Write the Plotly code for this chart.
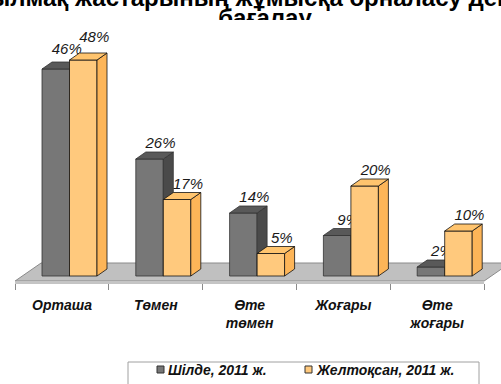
import plotly.graph_objects as go

# ---- data -------------------------------------------------------------
categories = ["Орташа", "Төмен", "Өте<br>төмен", "Жоғары", "Өте<br>жоғары"]
shilde_2011 = [46, 26, 14, 9, 2]
zheltoksan_2011 = [48, 17, 5, 20, 10]
series_names = ["Шілде, 2011 ж.", "Желтоқсан, 2011 ж."]
title_lines = ["Ауылмақ жастарының жұмысқа орналасу деңгейін", "бағалау"]

# ---- canvas / projection constants (pixels) --------------------------
W, H = 501, 384
FONT = "Liberation Sans"
CAT_PX = 93.8          # width of one category slot
FIRST_CENTER_PX = 62   # centre of the first slot
PX_PER_PCT = 4.5       # vertical scale
ZERO_PX = 276          # screen row of the 0 % level
PLOT_BOTTOM_PX = 283   # axis line row
PLOT_TOP_PX = 22
TITLE_BOTTOM_PX = 20

def ux(px):   # pixel width -> category units
    return px / CAT_PX

def uy(px):   # pixel height -> percent units
    return px / PX_PER_PCT

x_range = [ux(-FIRST_CENTER_PX), ux(W - FIRST_CENTER_PX)]
y_range = [-uy(PLOT_BOTTOM_PX - ZERO_PX), uy(ZERO_PX - PLOT_TOP_PX)]

BAR_W = ux(27.5)
DEPTH_X, DEPTH_Y = ux(10), uy(7)        # bar depth projection
FLOOR_DX, FLOOR_DY = ux(26), uy(18)     # floor depth projection
FLOOR_FRONT = -uy(5)

styles = [
    dict(offset=ux(-20), front="#777777", top="#595959", side="#4a4a4a",
         edge="#333333", lift=[4, 0, 0, 0, 0]),
    dict(offset=ux(7.5), front="#FFC97D", top="#FFC46E", side="#FDB558",
         edge="#111111", lift=[7, 0, 0, 0, 0]),
]

fig = go.Figure()


def add_series(values, st, xa, ya, name):
    xs = list(range(len(values)))
    fig.add_trace(go.Bar(
        x=xs, y=values, offset=st["offset"], width=BAR_W, name=name,
        marker=dict(color=st["front"], line=dict(color=st["edge"], width=0.8)),
        xaxis=xa, yaxis=ya, showlegend=False, hoverinfo="skip"))
    top_x, top_y, side_x, side_y = [], [], [], []
    for i, v in enumerate(values):
        xl = i + st["offset"]
        xr = xl + BAR_W
        top_x += [xl, xr, xr + DEPTH_X, xl + DEPTH_X, xl, None]
        top_y += [v, v, v + DEPTH_Y, v + DEPTH_Y, v, None]
        side_x += [xr, xr, xr + DEPTH_X, xr + DEPTH_X, xr, None]
        side_y += [0, v, v + DEPTH_Y, DEPTH_Y, 0, None]
    for fx, fy, col in ((side_x, side_y, st["side"]), (top_x, top_y, st["top"])):
        fig.add_trace(go.Scatter(
            x=fx, y=fy, mode="lines", fill="toself", fillcolor=col,
            line=dict(color=st["edge"], width=0.8), xaxis=xa, yaxis=ya,
            showlegend=False, hoverinfo="skip"))
    lx = [i + st["offset"] + BAR_W / 2 + ux(11) for i in xs]
    ly = [v + DEPTH_Y + uy(7.5 + st["lift"][i]) for i, v in enumerate(values)]
    fig.add_trace(go.Scatter(
        x=lx, y=ly, mode="text", text=[f"{v}%" for v in values],
        textposition="middle center", cliponaxis=False,
        textfont=dict(family=FONT, size=15, style="italic", color="#1a1a1a"),
        xaxis=xa, yaxis=ya, showlegend=False, hoverinfo="skip"))


add_series(shilde_2011, styles[0], "x", "y", series_names[0])
add_series(zheltoksan_2011, styles[1], "x2", "y2", series_names[1])

# title, clipped to a thin strip at the top
fig.add_trace(go.Scatter(
    x=[265, 265], y=[0, 19.5], mode="text", text=title_lines,
    textposition="middle center", cliponaxis=True,
    textfont=dict(family=FONT, size=24, weight="bold", color="#000000"),
    xaxis="x3", yaxis="y3", showlegend=False, hoverinfo="skip"))

n = len(categories)
shapes = [
    # floor slab
    dict(type="path", xref="x", yref="y", layer="below",
         path=(f"M{-0.5},{FLOOR_FRONT} L{n - 0.5},{FLOOR_FRONT} "
               f"L{n - 0.5 + FLOOR_DX},{FLOOR_FRONT + FLOOR_DY} "
               f"L{-0.5 + FLOOR_DX},{FLOOR_FRONT + FLOOR_DY} Z"),
         fillcolor="#C0C0C0", line=dict(color="#8a8a8a", width=1)),
    # category axis line
    dict(type="line", xref="x", yref="paper", x0=-0.5, x1=n - 0.5, y0=0, y1=0,
         line=dict(color="#8a8a8a", width=1)),
]

# legend box and swatches
def px_x(p):
    return p / W

def px_y(p):
    return (PLOT_BOTTOM_PX - p) / PLOT_BOTTOM_PX

shapes.append(dict(type="rect", xref="paper", yref="paper",
                   x0=px_x(128), x1=px_x(479), y0=px_y(392), y1=px_y(362),
                   line=dict(color="#a0a0a0", width=1), fillcolor="white"))
annotations = []
for sx, st, name in ((157, styles[0], series_names[0]),
                     (305, styles[1], series_names[1])):
    shapes.append(dict(type="rect", xref="paper", yref="paper",
                       x0=px_x(sx), x1=px_x(sx + 7), y0=px_y(373), y1=px_y(366),
                       fillcolor=st["front"], line=dict(color="#333333", width=1)))
    annotations.append(dict(
        xref="paper", yref="paper", x=px_x(sx + 9), y=px_y(370),
        xanchor="left", yanchor="middle", showarrow=False, text=name,
        font=dict(family=FONT, size=14, weight="bold", style="italic",
                  color="#111111")))

main_dom = [0, (PLOT_BOTTOM_PX - PLOT_TOP_PX) / PLOT_BOTTOM_PX]
fig.update_layout(
    width=W, height=H, margin=dict(l=0, r=0, t=0, b=H - PLOT_BOTTOM_PX),
    paper_bgcolor="white", plot_bgcolor="white", showlegend=False,
    xaxis=dict(range=x_range, domain=[0, 1], showgrid=False, zeroline=False,
               showline=False, tickvals=list(range(n)), ticktext=categories,
               ticks="", ticklabelstandoff=12,
               tickfont=dict(family=FONT, size=14, weight="bold",
                             style="italic", color="#111111"),
               minor=dict(tickvals=[i - 0.5 for i in range(n + 1)],
                          ticks="outside", ticklen=6, tickcolor="#8a8a8a",
                          showgrid=False)),
    yaxis=dict(range=y_range, domain=main_dom, visible=False),
    xaxis2=dict(range=x_range, overlaying="x", visible=False),
    yaxis2=dict(range=y_range, overlaying="y", visible=False),
    xaxis3=dict(range=[0, W], domain=[0, 1], anchor="y3", visible=False),
    yaxis3=dict(range=[TITLE_BOTTOM_PX, 0], anchor="x3", visible=False,
                domain=[(PLOT_BOTTOM_PX - TITLE_BOTTOM_PX) / PLOT_BOTTOM_PX, 1]),
    shapes=shapes, annotations=annotations,
)

fig.write_html("out.html")
